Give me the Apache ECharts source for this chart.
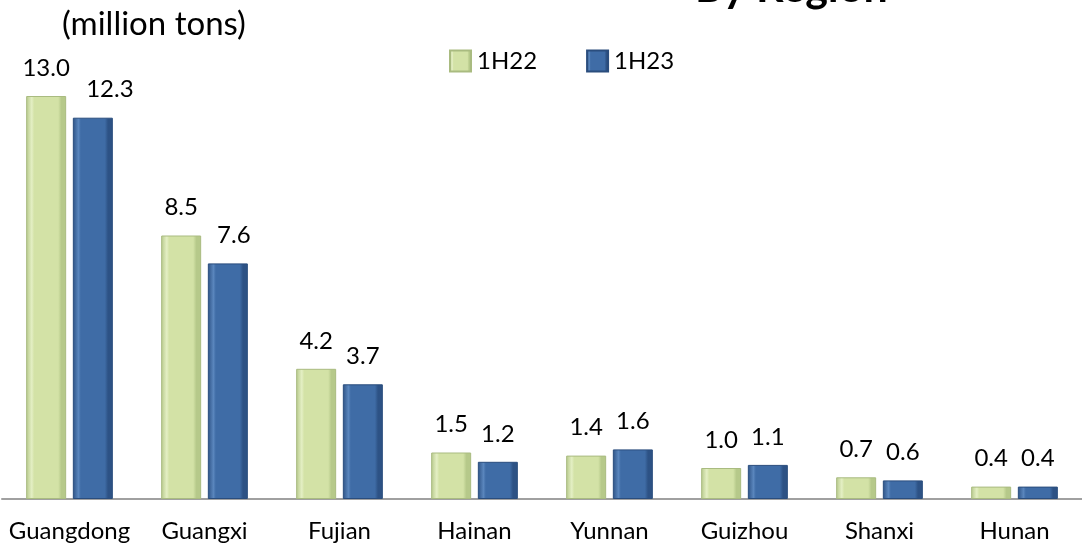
<!DOCTYPE html>
<html>
<head>
<meta charset="utf-8">
<script src="https://cdn.jsdelivr.net/npm/echarts@6/dist/echarts.min.js"></script>
<style>
html,body{margin:0;padding:0;background:#fff;}
#chart{width:1082px;height:548px;}
</style>
</head>
<body>
<div id="chart"></div>
<script>
const categories = ['Guangdong', 'Guangxi', 'Fujian', 'Hainan', 'Yunnan', 'Guizhou', 'Shanxi', 'Hunan'];
const series1H22 = [13.0, 8.5, 4.2, 1.5, 1.4, 1.0, 0.7, 0.4];
const series1H23 = [12.3, 7.6, 3.7, 1.2, 1.6, 1.1, 0.6, 0.4];
const seriesNames = ['1H22', '1H23'];
const unitLabel = '(million tons)';
const titleText = 'By Region';

const FONT = 'Lato, "Open Sans", sans-serif';

function bevel(edge, light, main) {
  return {
    type: 'linear', x: 0, y: 0, x2: 1, y2: 0,
    colorStops: [
      {offset: 0, color: edge},
      {offset: 0.14, color: light},
      {offset: 0.2, color: main},
      {offset: 0.8, color: main},
      {offset: 0.88, color: edge},
      {offset: 1, color: edge}
    ]
  };
}
const greenFill = bevel('#b6c98a', '#e4efc4', '#d3e2a6');
const blueFill = bevel('#2d5285', '#5a86bd', '#3f6ca6');

// manual label nudges (some 1H23 labels were moved right in the original)
const greenOffsets = {};
const blueOffsets = {0: [17, 0], 1: [6, 0]};

function buildData(values, offsets) {
  return values.map((v, i) => offsets[i] ? {value: v, label: {offset: offsets[i]}} : v);
}

const labelStyle = {
  show: true, position: 'top', distance: 16,
  fontFamily: FONT, fontSize: 24, color: '#000',
  formatter: p => p.value.toFixed(1)
};

const chart = echarts.init(document.getElementById('chart'), null, {renderer: 'canvas'});
chart.setOption({
  animation: false,
  backgroundColor: '#fff',
  title: [
    {text: unitLabel, left: 57, top: 3, textStyle: {fontFamily: FONT, fontSize: 33, fontWeight: 'normal', color: '#000'}},
    {text: titleText, left: 690, top: -38, textStyle: {fontFamily: FONT, fontSize: 43, fontWeight: 'bold', color: '#000'}}
  ],
  legend: {
    left: 444, top: 44,
    itemWidth: 21, itemHeight: 21, itemGap: 49,
    icon: 'rect',
    textStyle: {fontFamily: FONT, fontSize: 24, color: '#000', padding: [0, 0, 0, 1]},
    data: seriesNames
  },
  grid: {left: 2, right: 0, top: 65, bottom: 49, containLabel: false},
  xAxis: {
    type: 'category', data: categories,
    axisLine: {lineStyle: {color: '#a0a0a0', width: 2}},
    axisTick: {show: false},
    axisLabel: {fontFamily: FONT, fontSize: 24, color: '#000', margin: 20, interval: 0}
  },
  yAxis: {type: 'value', min: 0, max: 14, show: false, splitLine: {show: false}},
  series: [
    {
      name: seriesNames[0], type: 'bar', data: buildData(series1H22, greenOffsets),
      barWidth: 40, barGap: '16.7%',
      itemStyle: {color: greenFill, borderColor: '#a9bb80', borderWidth: 1},
      label: labelStyle
    },
    {
      name: seriesNames[1], type: 'bar', data: buildData(series1H23, blueOffsets),
      barWidth: 40, barGap: '16.7%',
      itemStyle: {color: blueFill, borderColor: '#2a4d7d', borderWidth: 1},
      label: labelStyle
    }
  ]
});
</script>
</body>
</html>
